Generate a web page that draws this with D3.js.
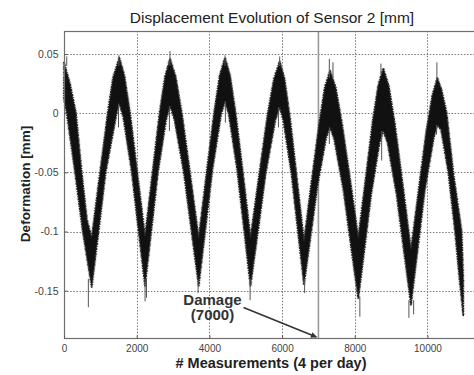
<!DOCTYPE html>
<html>
<head>
<meta charset="utf-8">
<script src="https://cdn.jsdelivr.net/npm/d3@7"></script>
<style>
  html, body { margin: 0; padding: 0; background: #fff; }
  svg { display: block; font-family: "Liberation Sans", Arial, sans-serif; }
</style>
</head>
<body>
<svg id="chart" width="474" height="375"></svg>
<script>
// Upper edge of the noisy displacement band (measurement number, mm)
const upperM = [0, 165, 330, 487, 633, 762, 991, 1202, 1348, 1522,
  1662, 1819, 2017, 2229, 2435, 2628, 2779, 2917,
  3073, 3249, 3470, 3706, 3924, 4127, 4284, 4430,
  4570, 4724, 4922, 5131, 5374, 5596, 5775, 5935,
  6070, 6215, 6402, 6603, 6818, 7019, 7176, 7319,
  7475, 7646, 7864, 8097, 8304, 8496, 8648, 8785,
  8937, 9104, 9319, 9547, 9765, 9968, 10133, 10271,
  10387, 10530, 10711, 10942, 10986];
const upperV = [0.043, 0.025, 0.000, -0.050, -0.090, -0.105, -0.050, 0.000, 0.030, 0.047,
  0.032, 0.000, -0.050, -0.104, -0.050, 0.000, 0.031, 0.046,
  0.031, -0.001, -0.051, -0.105, -0.050, 0.000, 0.032, 0.047,
  0.032, 0.000, -0.050, -0.105, -0.051, -0.002, 0.029, 0.044,
  0.029, -0.003, -0.053, -0.108, -0.056, -0.009, 0.022, 0.036,
  0.022, -0.008, -0.054, -0.105, -0.054, -0.006, 0.024, 0.038,
  0.023, -0.009, -0.060, -0.115, -0.063, -0.015, 0.015, 0.030,
  0.020, 0.000, -0.050, -0.100, -0.140];

// Lower edge of the same band
const lowerM = [0, 74, 303, 515, 762, 952, 1147, 1450, 1522,
  1629, 1860, 2053, 2229, 2401, 2586, 2813, 2917,
  3035, 3296, 3508, 3706, 3888, 4083, 4322, 4430,
  4534, 4765, 4955, 5131, 5332, 5550, 5814, 5935,
  6034, 6257, 6436, 6603, 6782, 6975, 7211, 7319,
  7434, 7693, 7902, 8097, 8271, 8455, 8683, 8785,
  8901, 9151, 9358, 9547, 9729, 9924, 10172, 10271,
  10373, 10574, 10758, 10896, 10986];
const lowerV = [0.012, 0.000, -0.050, -0.100, -0.147, -0.100, -0.050, 0.000, 0.008,
  -0.003, -0.049, -0.100, -0.146, -0.100, -0.050, -0.005, 0.006,
  -0.005, -0.050, -0.100, -0.146, -0.099, -0.048, -0.001, 0.010,
  -0.001, -0.048, -0.099, -0.146, -0.101, -0.051, -0.006, 0.005,
  -0.006, -0.051, -0.100, -0.145, -0.105, -0.061, -0.021, -0.012,
  -0.022, -0.066, -0.114, -0.157, -0.114, -0.068, -0.025, -0.015,
  -0.025, -0.069, -0.118, -0.162, -0.116, -0.066, -0.021, -0.010,
  -0.014, -0.050, -0.100, -0.145, -0.171];

// Isolated readings sticking out of the band: position, band edge, tip.
const spikeAt   = [75, 670, 1510, 2230, 2270, 2916, 3690, 4430, 5120, 5934, 6620, 7300, 7400, 8140, 8720, 9490, 9620, 10260,
                   1500, 2900, 4440, 5900, 7300, 8740, 10250];
const spikeBase = [0.040, -0.140, 0.040, -0.140, -0.140, 0.040, -0.140, 0.040, -0.140, 0.040, -0.140, 0.030, 0.030, -0.155, 0.033, -0.158, -0.158, 0.028,
                   0.008, 0.006, 0.010, 0.005, -0.012, -0.015, -0.010];
const spikeTip  = [0.048, -0.164, 0.049, -0.159, -0.156, 0.0525, -0.152, 0.049, -0.158, 0.048, -0.152, 0.046, 0.043, -0.172, 0.042, -0.173, -0.170, 0.043,
                   -0.012, -0.015, -0.008, -0.012, -0.026, -0.040, -0.018];

const xTicks = [0, 2000, 4000, 6000, 8000, 10000];
const yTicks = [-0.15, -0.1, -0.05, 0, 0.05];
const yTickLabels = ["-0.15", "-0.1", "-0.05", "0", "0.05"];

const damageAt = 7000;

const svg = d3.select("#chart");
const plot = { left: 64, top: 31, bottom: 338, right: 474.7 };

const x = d3.scaleLinear().domain([0, 11300]).range([plot.left, plot.right]);
const y = d3.scaleLinear().domain([-0.19, 0.0695]).range([plot.bottom, plot.top]);

// dotted grid
const grid = svg.append("g").attr("stroke", "#7a7a7a").attr("stroke-width", 1)
  .attr("stroke-dasharray", "1.5,1.6");
grid.selectAll("line.gx").data(xTicks.filter(d => d > 0)).join("line")
  .attr("x1", d => Math.round(x(d)) + 0.5).attr("x2", d => Math.round(x(d)) + 0.5)
  .attr("y1", plot.top).attr("y2", plot.bottom);
grid.selectAll("line.gy").data(yTicks).join("line")
  .attr("x1", plot.left).attr("x2", plot.right)
  .attr("y1", d => Math.round(y(d)) + 0.5).attr("y2", d => Math.round(y(d)) + 0.5);

// damage marker
svg.append("line")
  .attr("x1", x(damageAt)).attr("x2", x(damageAt))
  .attr("y1", plot.top).attr("y2", plot.bottom)
  .attr("stroke", "#9a9a9a").attr("stroke-width", 1.6);

// signal band: upper edge left to right, then lower edge back
const outline = upperM.map((m, i) => [m, upperV[i]])
  .concat(lowerM.map((m, i) => [m, lowerV[i]]).reverse());
const band = d3.line().x(d => x(d[0])).y(d => y(d[1])).curve(d3.curveLinearClosed);

// soft grey fringe of the dense trace
svg.append("path").attr("d", band(outline))
  .attr("fill", "none").attr("stroke", "#8a8a8a").attr("stroke-width", 3)
  .attr("stroke-opacity", 0.55).attr("stroke-dasharray", "2,1,1,1.5");
svg.append("path").attr("d", band(outline))
  .attr("fill", "#111")
  .attr("stroke", "#222").attr("stroke-width", 1.6).attr("stroke-linejoin", "round")
  .attr("stroke-dasharray", "1.2,0.8,2.2,0.9");

svg.append("g").attr("stroke", "#555").attr("stroke-width", 1)
  .selectAll("line").data(spikeAt.map((m, i) => ({ m, b: spikeBase[i], t: spikeTip[i] })))
  .join("line")
  .attr("x1", d => x(d.m)).attr("x2", d => x(d.m))
  .attr("y1", d => y(d.b)).attr("y2", d => y(d.t));

// frame (right side falls outside the view)
svg.append("rect")
  .attr("x", plot.left + 0.5).attr("y", plot.top + 0.5)
  .attr("width", plot.right - plot.left).attr("height", plot.bottom - plot.top)
  .attr("fill", "none").attr("stroke", "#6f6f6f").attr("stroke-width", 1.2);

// axes
const yAxis = d3.axisLeft(y).tickValues(yTicks).tickFormat((d, i) => yTickLabels[i])
  .tickSizeInner(-3).tickSizeOuter(0).tickPadding(6);
const gy = svg.append("g").attr("transform", `translate(${plot.left + 0.5},0)`).call(yAxis);
gy.select(".domain").remove();
gy.selectAll("line").attr("stroke", "#555");
gy.selectAll("text").attr("font-size", 10.5).attr("fill", "#444")
  .attr("font-family", "'Liberation Sans', Arial, sans-serif");

const xAxis = d3.axisBottom(x).tickValues(xTicks).tickFormat(d3.format("d"))
  .tickSizeInner(-3).tickSizeOuter(0).tickPadding(6);
const gx = svg.append("g").attr("transform", `translate(0,${plot.bottom + 0.5})`).call(xAxis);
gx.select(".domain").remove();
gx.selectAll("line").attr("stroke", "#555");
gx.selectAll("text").attr("font-size", 10).attr("fill", "#444")
  .attr("font-family", "'Liberation Sans', Arial, sans-serif");

// titles
svg.append("text").attr("x", 272).attr("y", 23)
  .attr("text-anchor", "middle").attr("font-size", 15.5).attr("fill", "#222")
  .text("Displacement Evolution of Sensor 2 [mm]");
svg.append("text").attr("x", 271).attr("y", 368)
  .attr("text-anchor", "middle").attr("font-size", 14.5).attr("font-weight", "bold").attr("fill", "#222")
  .text("# Measurements (4 per day)");
svg.append("text").attr("transform", "translate(30,184) rotate(-90)")
  .attr("text-anchor", "middle").attr("font-size", 13.5).attr("font-weight", "bold").attr("fill", "#222")
  .text("Deformation [mm]");

// damage annotation
const note = svg.append("text").attr("text-anchor", "middle").attr("font-size", 15)
  .attr("font-weight", "bold").attr("fill", "#333");
note.append("tspan").attr("x", 212.5).attr("y", 304.5).text("Damage");
note.append("tspan").attr("x", 212.5).attr("y", 320).text("(" + damageAt + ")");

svg.append("defs").append("marker")
  .attr("id", "head").attr("viewBox", "0 0 10 10").attr("refX", 9).attr("refY", 5)
  .attr("markerWidth", 7).attr("markerHeight", 6).attr("orient", "auto")
  .attr("markerUnits", "userSpaceOnUse")
  .append("path").attr("d", "M0,0 L10,5 L0,10 Z").attr("fill", "#333");
svg.append("line")
  .attr("x1", 243.5).attr("y1", 307.5)
  .attr("x2", x(damageAt) - 2).attr("y2", plot.bottom - 1)
  .attr("stroke", "#333").attr("stroke-width", 1.6)
  .attr("marker-end", "url(#head)");
</script>
</body>
</html>
